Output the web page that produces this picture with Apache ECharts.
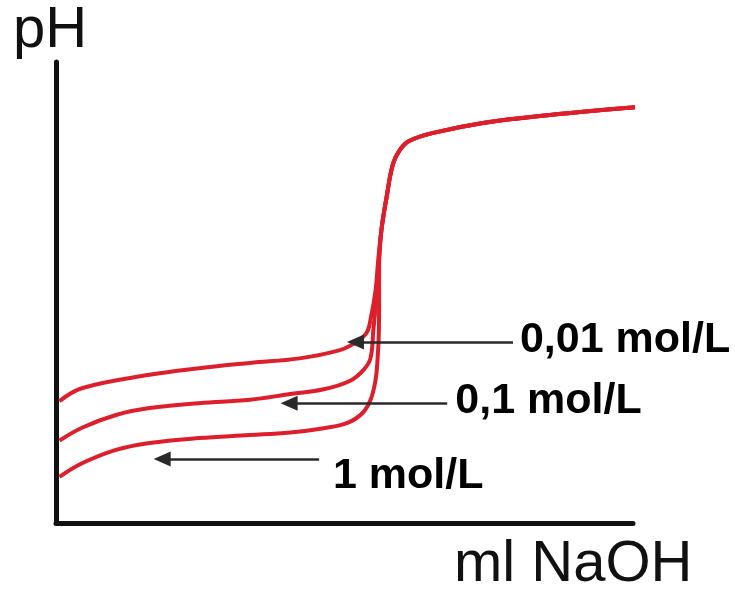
<!DOCTYPE html>
<html>
<head>
<meta charset="utf-8">
<script src="https://cdn.jsdelivr.net/npm/echarts@6/dist/echarts.min.js"></script>
<style>
html,body{margin:0;padding:0;background:#fff;}
#chart{width:735px;height:593px;}
</style>
</head>
<body>
<div id="chart"></div>
<script>
// Titration curves: pH vs ml NaOH (arbitrary units)
const curve001 = [[0.3,3.7],[2.3,4.1],[8.1,4.5],[12.4,4.7],[16.8,4.86],[21.1,5.0],[24.6,5.25],[25.9,5.47],[26.9,5.77],[27.3,6.26],[27.7,7.08],[27.9,7.9],[28.2,8.9],[28.65,9.9],[29.2,10.9],[29.8,11.33],[30.6,11.6],[32.6,11.84],[37.0,12.15],[42.8,12.39],[50.4,12.63]];
const curve01  = [[0.3,2.5],[2.3,2.9],[5.2,3.28],[8.1,3.49],[12.4,3.64],[16.8,3.74],[20.3,3.92],[23.2,4.06],[25.5,4.32],[26.65,4.65],[27.25,5.0],[27.5,5.86],[27.75,6.77],[27.9,7.6],[28.0,8.0],[28.2,8.9],[28.65,9.9],[29.2,10.9],[29.8,11.33],[30.6,11.6],[32.6,11.84],[37.0,12.15],[42.8,12.39],[50.4,12.63]];
const curve1   = [[0.3,1.4],[2.3,1.82],[5.2,2.22],[8.1,2.43],[12.4,2.58],[16.8,2.67],[20.3,2.75],[23.2,2.88],[25.26,3.04],[26.56,3.34],[27.26,3.74],[27.69,4.34],[27.86,4.95],[27.98,5.86],[28.0,6.77],[28.0,7.9],[28.2,8.9],[28.65,9.9],[29.2,10.9],[29.8,11.33],[30.6,11.6],[32.6,11.84],[37.0,12.15],[42.8,12.39],[50.4,12.63]];

const seriesNames = ['0,01 mol/L', '0,1 mol/L', '1 mol/L'];
// annotation arrows: [fromX, toX, y]
const arrows = [[39.6, 25.95, 5.5], [33.9, 20.2, 3.64], [22.8, 9.2, 1.94]];
// label anchor points [x, y]
const labelPos = [[40.2, 5.56], [34.6, 3.70], [24.0, 1.43]];
const axisTitles = ['pH', 'ml NaOH'];

const curves = [curve001, curve01, curve1];
const red = '#dc1f2b';

const chart = echarts.init(document.getElementById('chart'), null, {renderer: 'canvas'});

const series = curves.map((c, i) => ({
  type: 'line',
  name: seriesNames[i],
  data: c,
  smooth: 0.4,
  showSymbol: false,
  clip: false,
  lineStyle: {color: red, width: 4},
  z: 2,
  markLine: {
    silent: true,
    symbol: ['none', 'triangle'],
    symbolSize: [15, 17],
    label: {show: false},
    lineStyle: {color: '#2a2a2a', width: 2.5, type: 'solid'},
    emphasis: {disabled: true},
    data: [[{coord: [arrows[i][0], arrows[i][2]]}, {coord: [arrows[i][1], arrows[i][2]]}]]
  }
}));

series.push({
  type: 'scatter',
  symbolSize: 0,
  silent: true,
  itemStyle: {opacity: 1},
  data: labelPos.map((p, i) => ({name: seriesNames[i], value: p})),
  label: {
    show: true,
    position: 'right',
    distance: 0,
    formatter: '{b}',
    fontFamily: 'Liberation Sans',
    fontWeight: 'bold',
    fontSize: 43,
    color: '#000',
    opacity: 1
  }
});

chart.setOption({
  animation: false,
  backgroundColor: '#fff',
  grid: {left: 56, right: 102, top: 62, bottom: 70},
  xAxis: {
    type: 'value', min: 0, max: 50,
    axisLine: {show: true, onZero: false, lineStyle: {color: '#111', width: 5}},
    axisTick: {show: false}, axisLabel: {show: false}, splitLine: {show: false}
  },
  yAxis: {
    type: 'value', min: 0, max: 14,
    axisLine: {show: true, onZero: false, lineStyle: {color: '#111', width: 5}},
    axisTick: {show: false}, axisLabel: {show: false}, splitLine: {show: false}
  },
  graphic: [
    {type: 'text', left: 13, top: 2, style: {text: axisTitles[0], fontFamily: 'Liberation Sans', fontSize: 58, fill: '#111'}},
    {type: 'text', left: 454, top: 536, style: {text: axisTitles[1], fontFamily: 'Liberation Sans', fontSize: 58, fill: '#111'}}
  ],
  series: series
});
</script>
</body>
</html>
